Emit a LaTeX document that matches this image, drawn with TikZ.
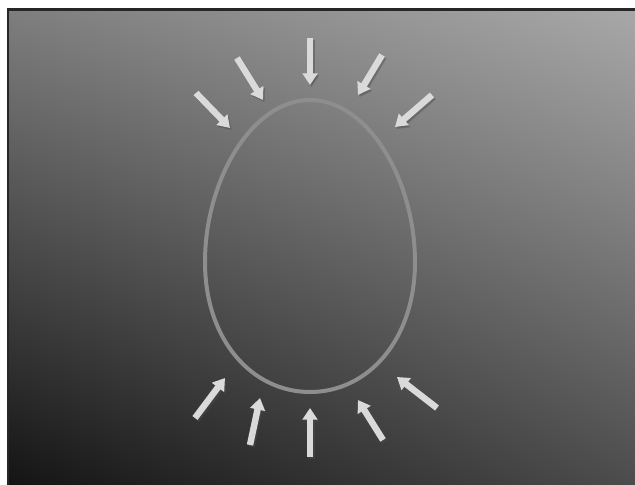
\documentclass[tikz,border=0pt]{standalone}
\usepackage{xcolor}
\usepackage{tikz}
\usetikzlibrary{arrows.meta, shadings}

\definecolor{boardTL}{HTML}{7E7E7E}
\definecolor{boardTR}{HTML}{A8A8A8}
\definecolor{boardBL}{HTML}{141414}
\definecolor{boardBR}{HTML}{4C4C4C}
\definecolor{eggline}{HTML}{8E8E8E}
\definecolor{chalk}{HTML}{DADADA}

\tikzset{
  egg/.style={draw=eggline, line width=3.4pt},
  push/.style={draw=chalk, line width=5.5pt, -{Triangle[width=12.5pt, length=10pt]}},
  pushshadow/.style={draw=black!70, opacity=0.45, line width=5.5pt, -{Triangle[width=12.5pt, length=10pt]}}
}

\begin{document}
\begin{tikzpicture}[x=0.03cm, y=-0.03cm]
  \useasboundingbox (0,0) rectangle (635,485);
  \fill[white] (0,0) rectangle (635,485);
  % dark board
  \shade[upper left=boardTL, upper right=boardTR, lower left=boardBL, lower right=boardBR]
    (8,9) rectangle (635,485);
  \draw[black!85, line width=2pt] (8,485) -- (8,9.5) -- (635,9.5);

  % the egg
  \coordinate (eggtop) at (310,100);
  \coordinate (eggbot) at (310,392);
  \draw[egg] (eggtop) .. controls (368,100) and (415,180) .. (415,262)
    .. controls (415,340) and (368,392) .. (eggbot)
    .. controls (252,392) and (205,340) .. (205,262)
    .. controls (205,180) and (252,100) .. (eggtop);

  % arrows pressing on the egg: tail/tip
  \foreach \i/\tx/\ty/\hx/\hy in {
      1/196/93/230/128, 2/237/58/263/100, 3/310/38/310/85,
      4/382/55/358/95, 5/432/95/395/127,
      6/195/418/225/378, 7/250/445/260/398, 8/310/457/310/408,
      9/383/440/358/400, 10/437/408/397/377} {
    \coordinate (tail\i) at (\tx,\ty);
    \coordinate (tip\i) at (\hx,\hy);
    \draw[pushshadow] ([shift={(1.5,2)}]tail\i) -- ([shift={(1.5,2)}]tip\i);
    \draw[push] (tail\i) -- (tip\i);
  }
\end{tikzpicture}
\end{document}
